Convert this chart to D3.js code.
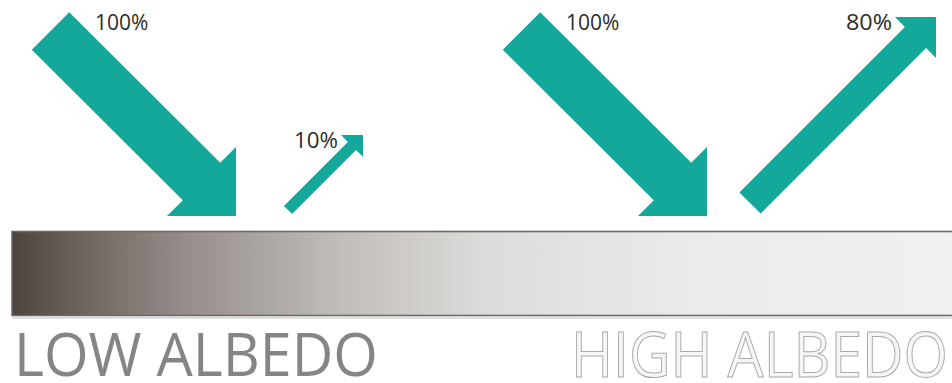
<!DOCTYPE html>
<html>
<head>
<meta charset="utf-8">
<script src="https://cdn.jsdelivr.net/npm/d3@7"></script>
<style>
  body { margin: 0; background: #fff; }
  svg { display: block; }
</style>
</head>
<body>
<script>
// albedo diagram: two surfaces, incoming light vs reflected light

let surfaces = ["LOW ALBEDO", "HIGH ALBEDO"];
let incoming = [100, 100];    // % of light arriving
let reflected = [10, 80];     // % of light bounced back
let inLabels = ["100%", "100%"];
let outLabels = ["10%", "80%"];

let width = 952,
  height = 383;

let teal = "#14a89b";

let svg = d3.select("body").append("svg")
  .attr("width", width)
  .attr("height", height);

// each surface gets one panel, left and right
let panel = d3.scaleBand()
  .domain(surfaces)
  .range([0, 942]);

// arrow thickness and head size follow the percentage
let shaftW = d3.scaleLinear().domain([10, 80, 100]).range([11.5, 30, 53]);
let headH = d3.scaleLinear().domain([10, 80, 100]).range([22, 41, 69]);
// how far the reflected arrow travels
let reach = d3.scaleLinear().domain([10, 80]).range([75, 186]);

setupGradient();
drawSurface();
drawArrows();
drawLabels();

function setupGradient() {
  let grad = svg.append("defs").append("linearGradient")
    .attr("id", "albedo")
    .attr("x1", "0%").attr("x2", "100%")
    .attr("y1", "0%").attr("y2", "0%");
  let stops = [
    [0, "#4d4440"], [0.1, "#786f6b"], [0.18, "#958d89"],
    [0.34, "#c0bcb8"], [0.5, "#dddcda"], [0.7, "#eaeaea"], [1, "#f1f1f1"]
  ];
  grad.selectAll("stop")
    .data(stops)
    .enter().append("stop")
    .attr("offset", d => d[0])
    .attr("stop-color", d => d[1]);
}

function drawSurface() {
  svg.append("line")
    .attr("x1", 12).attr("x2", width)
    .attr("y1", 318).attr("y2", 318)
    .style("stroke", "#d6d6d6")
    .style("stroke-width", 1.5);
  svg.append("rect")
    .attr("x", 12)
    .attr("y", 231.5)
    .attr("width", width)
    .attr("height", 84)
    .attr("fill", "url(#albedo)")
    .style("stroke", "#6a6a6a")
    .style("stroke-width", 1.6);
}

// diagonal arrow, head is a right angle triangle sitting on the tip corner
function arrowPath(tail, tip, w, h) {
  let sx = Math.sign(tip[0] - tail[0]),
    sy = Math.sign(tip[1] - tail[1]);
  let k = w / 2 / Math.SQRT2;
  let px = sx * k, py = -sy * k;
  let m = [tip[0] - sx * h / 2, tip[1] - sy * h / 2];
  let pts = [
    [tail[0] + px, tail[1] + py],
    [m[0] + px, m[1] + py],
    [tip[0], tip[1] - sy * h],
    tip,
    [tip[0] - sx * h, tip[1]],
    [m[0] - px, m[1] - py],
    [tail[0] - px, tail[1] - py]
  ];
  return d3.line()(pts) + "Z";
}

function inArrow(i) {
  let x0 = panel(surfaces[i]);
  return { tail: [x0 + 50.5, 31], tip: [x0 + 236, 216] };
}

function outArrow(i) {
  let x0 = panel(surfaces[i]);
  let L = reach(reflected[i]);
  let tail = i === 0 ? [x0 + 288, 210] : [x0 + 279, 203];
  return { tail: tail, tip: [tail[0] + L, tail[1] - L] };
}

function drawArrows() {
  svg.selectAll(".in")
    .data(incoming)
    .enter().append("path")
    .attr("class", "in")
    .attr("d", (d, i) => {
      let a = inArrow(i);
      return arrowPath(a.tail, a.tip, shaftW(d), headH(d));
    })
    .attr("fill", teal);

  svg.selectAll(".out")
    .data(reflected)
    .enter().append("path")
    .attr("class", "out")
    .attr("d", (d, i) => {
      let a = outArrow(i);
      return arrowPath(a.tail, a.tip, shaftW(d), headH(d));
    })
    .attr("fill", teal);
}

function drawLabels() {
  svg.selectAll(".inlab")
    .data(inLabels)
    .enter().append("text")
    .attr("class", "inlab")
    .attr("x", (d, i) => inArrow(i).tail[0] + 44.5)
    .attr("y", 30)
    .style("font-family", "Open Sans")
    .style("font-size", "21px")
    .style("fill", "#2b2b2b")
    .text(d => d);

  svg.selectAll(".outlab")
    .data(outLabels)
    .enter().append("text")
    .attr("class", "outlab")
    .attr("x", (d, i) => {
      let a = outArrow(i);
      return a.tip[0] - headH(reflected[i]) - 3;
    })
    .attr("y", (d, i) => outArrow(i).tip[1] + 13)
    .attr("textLength", (d, i) => i === 0 ? 44 : 46)
    .attr("lengthAdjust", "spacingAndGlyphs")
    .style("font-family", "Open Sans")
    .style("font-size", "21px")
    .style("fill", "#2b2b2b")
    .style("text-anchor", "end")
    .text(d => d);

  // surface names under the bar
  svg.append("text")
    .attr("x", 14)
    .attr("y", 376)
    .attr("textLength", 364)
    .attr("lengthAdjust", "spacingAndGlyphs")
    .style("font-family", "Open Sans")
    .style("font-size", "60px")
    .style("fill", "#858585")
    .text(surfaces[0]);

  svg.append("text")
    .attr("x", 571)
    .attr("y", 377)
    .attr("textLength", 377)
    .attr("lengthAdjust", "spacingAndGlyphs")
    .style("font-family", "Open Sans")
    .style("font-size", "62px")
    .style("fill", "#f6f6f6")
    .style("stroke", "#a9a9a9")
    .style("stroke-width", 1)
    .text(surfaces[1]);
}
</script>
</body>
</html>
